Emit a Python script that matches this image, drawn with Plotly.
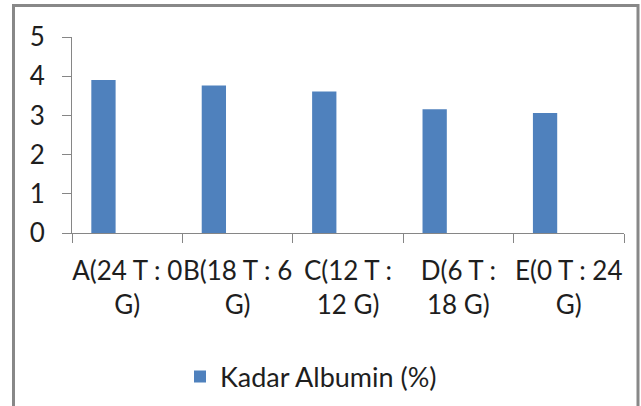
import plotly.graph_objects as go

categories = ["A(24 T : 0 G)", "B(18 T : 6 G)", "C(12 T : 12 G)", "D(6 T : 18 G)", "E(0 T : 24 G)"]
tick_labels = ["A(24 T : 0<br>G)", "B(18 T : 6<br>G)", "C(12 T :<br>12 G)", "D(6 T :<br>18 G)", "E(0 T : 24<br>G)"]
albumin = [3.90, 3.76, 3.61, 3.16, 3.06]
series_name = "Kadar Albumin (%)"

W, H = 641, 406
L, R, T, B = 72, 17, 37, 173
pw = W - L - R
ph = H - T - B

def px_x(x):
    return (x - L) / pw

def px_y(y):
    return (H - B - y) / ph

FONT = "Lato, 'Open Sans', sans-serif"
TXT = "#1e1e1e"
AX = "#868686"

fig = go.Figure()
fig.add_trace(go.Bar(
    x=categories, y=albumin, name=series_name,
    marker=dict(color="#4F81BD", line=dict(width=0)),
    width=0.22, offset=-0.325, showlegend=True,
))

fig.update_layout(
    width=W, height=H,
    margin=dict(l=L, r=R, t=T, b=B, autoexpand=False),
    paper_bgcolor="white", plot_bgcolor="white",
    font=dict(family=FONT, size=26, color=TXT),
    showlegend=True,
    legend=dict(orientation="h", x=px_x(180), xanchor="left",
                y=px_y(377), yanchor="middle",
                font=dict(size=27, color=TXT), bgcolor="rgba(0,0,0,0)"),
    xaxis=dict(
        type="category", range=[-0.5, 4.5], automargin=False,
        tickmode="array", tickvals=categories, ticktext=tick_labels,
        showline=True, linecolor=AX, linewidth=1,
        ticks="outside", ticklen=9, tickcolor=AX, tickson="boundaries",
        showgrid=False, zeroline=False, fixedrange=True,
        tickfont=dict(size=26, color=TXT), tickangle=0, ticklabelstandoff=15,
    ),
    yaxis=dict(
        range=[0, 5], tickvals=[0, 1, 2, 3, 4, 5], automargin=False,
        showline=True, linecolor=AX, linewidth=1,
        ticks="outside", ticklen=9, tickcolor=AX,
        showgrid=False, zeroline=False, fixedrange=True,
        tickfont=dict(size=26, color=TXT), ticklabelstandoff=12,
    ),
    shapes=[dict(type="rect", xref="paper", yref="paper",
                 x0=px_x(13.5), x1=px_x(638), y0=px_y(420), y1=px_y(5.5),
                 line=dict(color="#888888", width=3), layer="below")],
)

fig.write_html(
    "out.html",
    config={"displayModeBar": False},
    post_script="document.body.style.margin='0';document.body.style.overflow='hidden';",
)
